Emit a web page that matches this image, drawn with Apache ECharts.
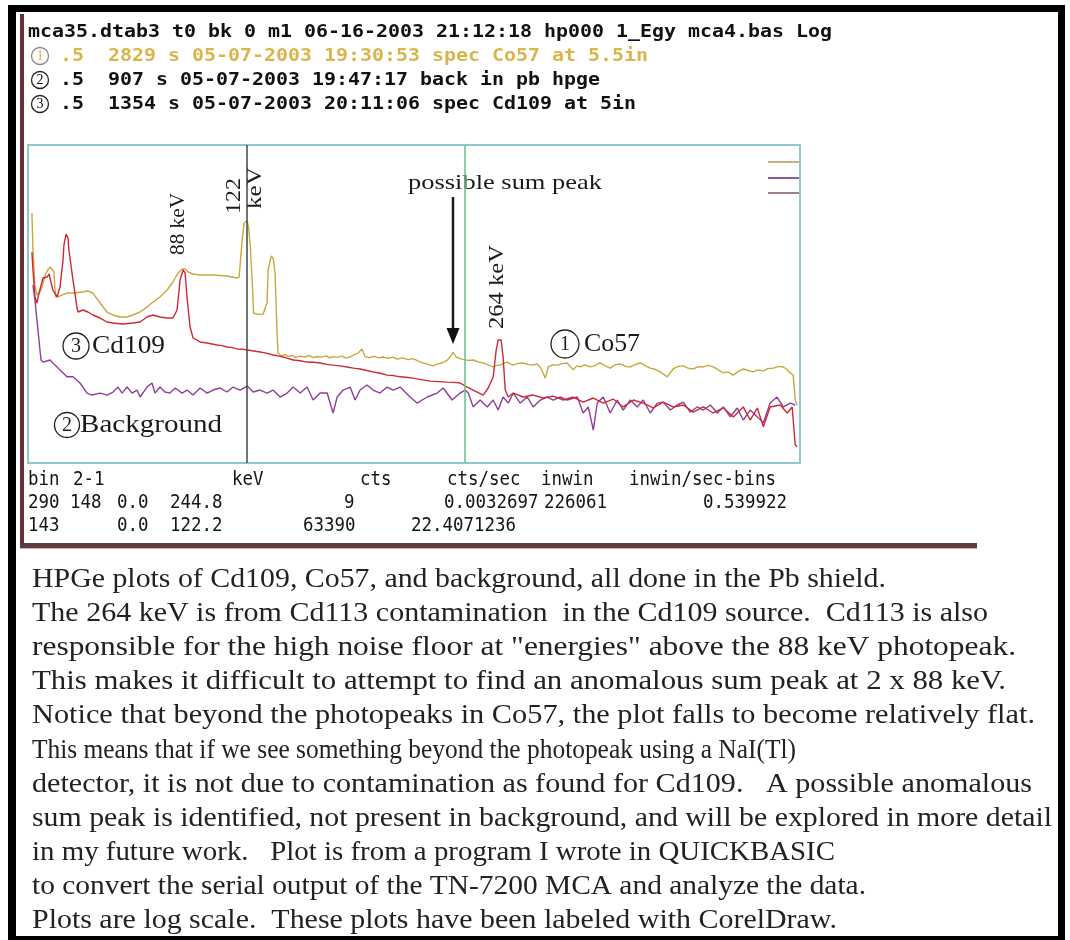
<!DOCTYPE html>
<html>
<head>
<meta charset="utf-8">
<title>HPGe spectra: Cd109, Co57, background</title>
<script src="https://cdn.jsdelivr.net/npm/echarts@6/dist/echarts.min.js"></script>
<style>
  html, body { margin: 0; padding: 0; background: #fff; }
  #chart { width: 1070px; height: 940px; }
</style>
</head>
<body>
<div id="chart"></div>
<script>
// ---- data: energy (keV) vs counts, log scale ----
const cursorKeV = [122.2, 244.8];

const co57 = [
  [1.2, 89800], [1.8, 16600], [2.9, 3360], [4.0, 2130], [5.7, 2440], [6.9, 3070], [8.5, 5070],
  [9.7, 6370], [11.4, 7640], [12.5, 7300], [13.6, 6090], [14.2, 2680], [14.7, 1950], [17.0, 2040],
  [20.9, 2330], [25.4, 2330], [29.4, 2440], [32.7, 2560], [35.5, 2330], [39.5, 1480], [43.4, 981],
  [46.8, 856], [50.7, 781], [54.7, 781], [58.0, 856], [62.0, 981], [65.9, 1230], [69.3, 1550],
  [73.2, 1950], [77.2, 2680], [80.5, 3860], [83.3, 5810], [85.6, 6980], [87.3, 6980], [89.0, 6090],
  [91.8, 5550], [95.7, 5310], [103.0, 5310], [110.9, 5070], [116.5, 4630], [117.7, 4840],
  [119.4, 26200], [120.5, 56900], [122.2, 63390], [123.0, 47400], [124.0, 19000], [125.2, 3070],
  [125.8, 938], [128.5, 880], [131.2, 896], [133.4, 1480], [134.0, 6670], [135.7, 12600],
  [136.8, 11500], [137.9, 5810], [139.0, 377], [139.6, 151], [141.5, 132], [143.5, 140],
  [145.5, 128], [147.5, 136], [149.5, 124], [152.0, 131], [154.5, 126], [157.0, 134], [159.5, 122],
  [161.5, 129], [164.0, 125], [166.5, 133], [168.5, 121], [170.5, 128], [173.0, 124], [175.5, 131],
  [178.0, 120], [180.1, 127], [182.5, 140], [184.6, 151], [186.8, 182], [188.5, 128], [191.0, 122],
  [193.5, 130], [196.0, 121], [198.6, 126], [201.5, 118], [204.0, 125], [206.7, 115], [209.5, 121],
  [212.5, 112], [215.5, 117], [218.5, 104], [221.1, 96], [224.0, 90], [226.7, 84], [229.5, 92],
  [232.4, 98], [234.5, 108], [236.3, 126], [238.0, 158], [239.7, 126], [241.5, 118], [243.6, 113],
  [246.5, 108], [249.3, 110], [252.0, 101], [254.9, 96], [257.5, 88], [260.5, 80], [262.5, 86],
  [264.4, 87], [266.5, 95], [268.4, 100], [270.0, 92], [271.8, 87], [274.5, 94], [277.4, 96],
  [280.0, 90], [283.0, 87], [285.0, 92], [287.0, 80], [289.8, 48], [291.5, 80], [294.0, 88],
  [296.5, 87], [299.5, 93], [302.1, 96], [305.5, 70], [307.5, 84], [309.4, 80], [312.0, 88],
  [315.1, 80], [318.0, 86], [320.7, 96], [323.5, 84], [326.3, 76], [329.0, 88], [332.0, 92],
  [335.0, 82], [337.6, 80], [340.5, 90], [343.2, 96], [346.0, 85], [348.8, 76], [351.5, 72],
  [354.4, 64], [358.4, 51], [361.7, 73], [364.5, 82], [367.4, 84], [370.0, 76], [373.0, 73],
  [376.0, 81], [378.6, 80], [381.5, 86], [384.2, 80], [387.0, 70], [389.9, 61], [392.5, 64],
  [395.5, 55], [398.5, 66], [401.1, 73], [404.0, 68], [406.7, 64], [409.5, 70], [412.4, 67],
  [415.0, 74], [418.0, 76], [421.0, 82], [423.6, 80], [425.5, 72], [427.5, 61], [429.2, 55],
  [430.3, 18], [431.4, 14]
];

const cd109 = [
  [1.2, 15100], [1.8, 6670], [2.9, 1950], [4.0, 1480], [5.2, 2330], [7.4, 4630], [9.7, 4840],
  [10.8, 5550], [13.0, 2680], [15.3, 1950], [17.0, 3070], [18.7, 10500], [19.2, 20800],
  [20.4, 34400], [21.5, 28700], [22.0, 16600], [24.3, 4220], [26.5, 1230], [27.1, 981],
  [29.9, 1075], [32.7, 981], [35.5, 856], [39.5, 746], [43.4, 622], [46.8, 594], [52.4, 568],
  [58.0, 594], [62.0, 622], [65.9, 781], [69.3, 856], [73.2, 781], [77.2, 746], [80.5, 746],
  [82.8, 1075], [84.5, 4220], [86.2, 6670], [87.3, 5810], [88.4, 1950], [90.1, 495], [91.8, 300],
  [95.7, 250], [99.7, 239], [102.5, 228], [105.3, 218], [108.0, 212], [110.9, 199], [113.5, 195],
  [116.5, 182], [119.5, 180], [122.2, 173], [126.0, 166], [129.5, 158], [133.0, 150], [136.8, 138],
  [139.5, 133], [142.4, 126], [145.0, 118], [148.1, 110], [152.0, 106], [155.9, 100], [159.5, 99],
  [163.2, 96], [167.0, 90], [170.5, 87], [174.5, 84], [178.4, 80], [182.0, 76], [185.7, 73],
  [189.5, 68], [193.0, 64], [197.0, 60], [200.9, 55], [204.5, 54], [208.2, 51], [211.5, 50],
  [215.5, 48], [220.0, 45], [225.1, 42], [230.0, 41], [234.6, 40], [238.5, 39.5], [241.9, 38.5],
  [245.9, 32], [251.5, 25.5], [254.9, 22.2], [257.7, 30.6], [260.5, 50.6], [262.2, 173],
  [263.3, 274], [265.0, 274], [266.1, 126], [267.3, 27.9], [269.0, 20.3], [271.8, 24.3],
  [277.4, 20.3], [283.0, 22.2], [288.7, 19.4], [294.3, 21.2], [299.9, 17.7], [305.5, 20.3],
  [311.1, 16.1], [316.8, 19.4], [322.4, 15.4], [328.0, 18.5], [333.6, 12.9], [339.3, 17.7],
  [344.9, 15.4], [350.5, 12.3], [356.1, 16.1], [361.7, 12.9], [367.4, 14.1], [373.0, 10.2],
  [378.6, 12.9], [384.2, 9.8], [389.9, 12.3], [395.5, 8.2], [401.1, 12.9], [405.0, 7.1],
  [409.0, 12.3], [412.4, 5.2], [416.2, 12.9], [421.9, 14.1], [425.8, 9.8], [428.6, 12.9],
  [430.3, 2.3], [431.4, 2.1]
];

const background = [
  [1.8, 3360], [2.9, 1700], [4.6, 432], [6.3, 110], [7.4, 100], [11.4, 110], [14.2, 87], [17.0, 70],
  [20.9, 51], [24.3, 51], [28.2, 38.5], [32.2, 24.3], [35.0, 22.2], [39.5, 24.3], [43.4, 22.2],
  [46.8, 25.5], [49.6, 32], [51.9, 24.3], [54.7, 32], [57.5, 24.3], [60.3, 27.9], [62.0, 20.3],
  [65.9, 32], [68.7, 38.5], [70.4, 24.3], [73.2, 32], [76.0, 25.5], [78.8, 24.3], [81.7, 30.6],
  [85.6, 24.3], [88.4, 27.9], [91.8, 22.2], [95.7, 30.6], [99.7, 24.3], [103.0, 27.9], [107.0, 30.6],
  [110.9, 25.5], [114.3, 32], [118.2, 27.9], [122.2, 33.5], [125.6, 25.5], [129.5, 27.9],
  [133.4, 24.3], [136.8, 27.9], [140.7, 20.3], [144.7, 24.3], [148.1, 32], [152.0, 24.3],
  [155.9, 32], [159.3, 17.7], [163.2, 24.3], [167.2, 24.3], [170.5, 9.8], [172.8, 20.3],
  [176.2, 27.9], [180.1, 32], [182.9, 17.7], [185.7, 27.9], [189.6, 35.1], [193.0, 27.9],
  [196.9, 24.3], [200.9, 32], [204.3, 27.9], [208.2, 32], [213.8, 20.3], [217.7, 15.4],
  [223.4, 20.3], [229.0, 24.3], [232.4, 30.6], [237.4, 17.7], [241.9, 24.3], [244.8, 27.9],
  [246.5, 24.3], [249.3, 12.9], [253.2, 17.7], [257.2, 12.9], [260.5, 17.7], [263.3, 11.2],
  [266.1, 20.3], [269.0, 15.4], [271.8, 24.3], [275.7, 15.4], [279.7, 20.3], [283.0, 12.9],
  [287.0, 17.7], [290.9, 20.3], [294.3, 17.7], [298.2, 20.3], [302.1, 17.7], [307.8, 20.3],
  [311.1, 9.8], [314.0, 12.9], [316.8, 4.5], [319.0, 15.4], [322.4, 20.3], [326.3, 9.8],
  [330.3, 17.7], [333.6, 11.2], [337.6, 17.7], [341.5, 12.9], [344.9, 17.7], [348.8, 9.8],
  [352.8, 15.4], [356.1, 16.1], [360.1, 11.2], [364.0, 14.1], [367.4, 16.1], [371.3, 10.2],
  [375.2, 12.9], [378.6, 11.2], [382.6, 14.1], [386.5, 9.8], [389.9, 12.9], [393.8, 8.2],
  [397.7, 12.3], [401.1, 7.1], [405.0, 11.2], [409.0, 8.2], [412.4, 6.2], [416.2, 15.4],
  [420.1, 20.3], [423.6, 12.9], [427.5, 15.4], [430.3, 14.1]
];

// ---- texts ----
const headerLines = [
  'mca35.dtab3 t0 bk 0 m1 06-16-2003 21:12:18 hp000 1_Egy mca4.bas Log',
  '.5  2829 s 05-07-2003 19:30:53 spec Co57 at 5.5in',
  '.5  907 s 05-07-2003 19:47:17 back in pb hpge',
  '.5  1354 s 05-07-2003 20:11:06 spec Cd109 at 5in'
];
const headerMarks = ['1', '2', '3'];

const tableRows = [
  ['bin', '2-1', 'keV', 'cts', 'cts/sec', 'inwin', 'inwin/sec-bins'],
  ['290', '148', '0.0', '244.8', '9', '0.0032697', '226061', '0.539922'],
  ['143', '0.0', '122.2', '63390', '22.4071236']
];

const captionLines = [
  'HPGe plots of Cd109, Co57, and background, all done in the Pb shield.',
  'The 264 keV is from Cd113 contamination  in the Cd109 source.  Cd113 is also',
  'responsible for the high noise floor at "energies" above the 88 keV photopeak.',
  'This makes it difficult to attempt to find an anomalous sum peak at 2 x 88 keV.',
  'Notice that beyond the photopeaks in Co57, the plot falls to become relatively flat.',
  'This means that if we see something beyond the photopeak using a NaI(Tl)',
  'detector, it is not due to contamination as found for Cd109.   A possible anomalous',
  'sum peak is identified, not present in background, and will be explored in more detail',
  'in my future work.   Plot is from a program I wrote in QUICKBASIC',
  'to convert the serial output of the TN-7200 MCA and analyze the data.',
  'Plots are log scale.  These plots have been labeled with CorelDraw.'
];

// ---- layout ----
const tableLeft = [
  [28, 73, 232, 360, 447, 541, 629],
  [28, 70, 117, 170, 344, 444, 544, 703],
  [28, 117, 170, 303, 411]
];
const tableRowY = [480, 503, 526];
const captionRight = [886, 988, 1016, 1006, 1035, 796, 1032, 1052, 835, 866, 837];
const headerY = [32, 56, 80, 104];

const SERIF = '"Liberation Serif", "DejaVu Serif", serif';
const MONO = '"DejaVu Sans Mono", "Liberation Mono", monospace';

const mctx = document.createElement('canvas').getContext('2d');
function measure(str, size, family, weight) {
  mctx.font = (weight || 'normal') + ' ' + size + 'px ' + family;
  return mctx.measureText(str).width;
}

function textAt(str, left, cy, size, family, opt) {
  opt = opt || {};
  return {
    type: 'text', x: left, y: cy, silent: true,
    scaleX: opt.scaleX || 1, scaleY: opt.scaleY || 1,
    style: {
      text: str, x: 0, y: 0, fontSize: size, fontFamily: family,
      fontWeight: opt.weight || 'normal', fill: opt.color || '#1b1b1b',
      align: 'left', verticalAlign: 'middle'
    }
  };
}

// text stretched so it runs from `left` to about `right` (scale kept within limits)
function fitText(str, left, right, cy, size, family, opt) {
  opt = opt || {};
  const w = measure(str, size, family, opt.weight);
  let s = (right - left) / w;
  if (opt.minScale) s = Math.max(s, opt.minScale);
  if (opt.maxScale) s = Math.min(s, opt.maxScale);
  return textAt(str, left, cy, size, family, Object.assign({}, opt, { scaleX: s }));
}

// text reading bottom-to-top, centred at (cx, cy), `len` pixels long
function upText(str, cx, cy, len, size, color) {
  const w = measure(str, size, SERIF);
  return {
    type: 'text', x: cx, y: cy, rotation: Math.PI / 2, scaleX: len / w, silent: true,
    style: {
      text: str, x: 0, y: 0, fontSize: size, fontFamily: SERIF, fill: color || '#1b1b1b',
      align: 'center', verticalAlign: 'middle'
    }
  };
}

function circled(num, cx, cy, r, size, stroke, color) {
  return [
    { type: 'circle', silent: true, shape: { cx: cx, cy: cy, r: r },
      style: { fill: 'none', stroke: stroke, lineWidth: 1.3 } },
    { type: 'text', silent: true, x: cx, y: cy + 0.5,
      style: { text: num, x: 0, y: 0, fontSize: size, fontFamily: SERIF, fill: color,
               align: 'center', verticalAlign: 'middle' } }
  ];
}

const g = [];

// outer black frame
g.push({ type: 'rect', silent: true, shape: { x: 8, y: 5, width: 1057, height: 7 }, style: { fill: '#000' } });
g.push({ type: 'rect', silent: true, shape: { x: 8, y: 5, width: 8, height: 935 }, style: { fill: '#000' } });
g.push({ type: 'rect', silent: true, shape: { x: 1058, y: 5, width: 7, height: 935 }, style: { fill: '#000' } });
g.push({ type: 'rect', silent: true, shape: { x: 8, y: 936, width: 1057, height: 4 }, style: { fill: '#000' } });

// screen-capture edges (maroon)
g.push({ type: 'rect', silent: true, shape: { x: 20, y: 14, width: 4, height: 534 }, style: { fill: '#6b2c35' } });
g.push({ type: 'rect', silent: true, shape: { x: 20, y: 543, width: 957, height: 5 }, style: { fill: '#5a3c43' } });
g.push({ type: 'rect', silent: true, shape: { x: 20, y: 548, width: 957, height: 1 }, style: { fill: '#eaa6a6' } });

// header lines (program status), fixed 12 px character cells
const CHAR_W = 12;
headerLines.forEach(function (line, i) {
  const left = i === 0 ? 28 : 60;
  g.push(fitText(line, left, left + CHAR_W * line.length, headerY[i], 16, MONO,
    { weight: 'bold', scaleY: 1.1, color: i === 1 ? '#d8b64c' : '#111' }));
});
headerMarks.forEach(function (m, i) {
  const isCo = i === 0;
  circled(m, 40, headerY[i + 1], 8.5, 14, isCo ? '#8a8a8a' : '#222', isCo ? '#d8b64c' : '#111')
    .forEach(function (e) { g.push(e); });
});

// readout table under the plot, 10.5 px character cells
const TABLE_SIZE = 17;
const tableScaleX = 10.5 / measure('0', TABLE_SIZE, MONO);
tableRows.forEach(function (row, r) {
  row.forEach(function (cell, c) {
    g.push(textAt(cell, tableLeft[r][c], tableRowY[r], TABLE_SIZE, MONO,
      { scaleX: tableScaleX, scaleY: 1.15, color: '#151515' }));
  });
});

// caption
captionLines.forEach(function (line, i) {
  g.push(fitText(line, 32, captionRight[i], 580 + 34.1 * i, 27, SERIF,
    { color: '#222', minScale: 0.85, maxScale: 1.2 }));
});

// legend swatches in the plot corner
[['#c9b27a', 162], ['#85609e', 178], ['#a57d8c', 193]].forEach(function (s) {
  g.push({ type: 'line', silent: true, shape: { x1: 768, y1: s[1], x2: 799, y2: s[1] },
           style: { stroke: s[0], lineWidth: 2 } });
});

// peak annotations
g.push(upText('88 keV', 179, 224, 62, 20));
g.push(upText('122', 235, 196, 36, 20));
g.push(upText('keV', 256, 188, 42, 20));
g.push(upText('264 keV', 497, 287, 84, 21));
g.push(fitText('possible sum peak', 408, 602, 183, 21, SERIF, { color: '#1b1b1b' }));
g.push({ type: 'line', silent: true, shape: { x1: 453, y1: 197, x2: 453, y2: 332 },
         style: { stroke: '#1b1b1b', lineWidth: 2.5 } });
g.push({ type: 'polygon', silent: true, shape: { points: [[446.5, 328], [459.5, 328], [453, 344]] },
         style: { fill: '#111' } });

// series labels
circled('1', 565, 344, 14, 20, '#222', '#222').forEach(function (e) { g.push(e); });
g.push(fitText('Co57', 584, 640, 344, 25, SERIF));
circled('3', 76, 346, 13, 20, '#222', '#222').forEach(function (e) { g.push(e); });
g.push(fitText('Cd109', 92, 165, 346, 25, SERIF));
circled('2', 67, 425, 12.5, 20, '#222', '#222').forEach(function (e) { g.push(e); });
g.push(fitText('Background', 80, 222, 425, 25, SERIF));

const chart = echarts.init(document.getElementById('chart'), null, { renderer: 'canvas' });
chart.setOption({
  animation: false,
  backgroundColor: '#ffffff',
  grid: {
    left: 28, top: 145, width: 772, height: 318,
    show: true, borderColor: '#8fc8cc', borderWidth: 2, backgroundColor: '#ffffff'
  },
  xAxis: { type: 'value', min: -1, max: 433, show: false },
  yAxis: { type: 'log', logBase: 10, min: 1, max: 2e6, show: false },
  series: [
    {
      name: 'Background', type: 'line', data: background, showSymbol: false, silent: true,
      lineStyle: { color: '#8e3f98', width: 1.4 }, z: 2
    },
    {
      name: 'Co57', type: 'line', data: co57, showSymbol: false, silent: true,
      lineStyle: { color: '#c9a63e', width: 1.4 }, z: 3
    },
    {
      name: 'Cd109', type: 'line', data: cd109, showSymbol: false, silent: true,
      lineStyle: { color: '#d02836', width: 1.4 }, z: 4,
      markLine: {
        silent: true, symbol: ['none', 'none'], label: { show: false },
        data: cursorKeV.map(function (k, i) {
          return { xAxis: k, lineStyle: { color: i === 0 ? '#3d4a4a' : '#6cbd8a', width: 1.5, type: 'solid' } };
        })
      }
    }
  ],
  graphic: g
});
</script>
</body>
</html>
